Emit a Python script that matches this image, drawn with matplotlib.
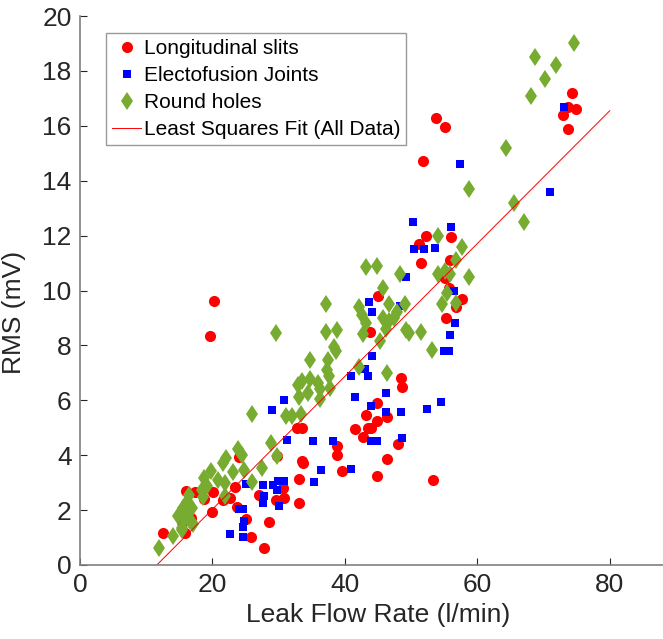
import matplotlib.pyplot as plt

# Longitudinal slits: leak flow (l/min) and RMS (mV)
slits_flow = [72.9, 74.3, 74.9, 73.7, 73.7, 53.7, 55.1, 51.8,
              52.3, 56.0, 51.2, 55.9, 51.5, 55.1, 55.7, 45.0, 57.7, 56.8, 55.2,
              43.8, 48.5, 48.6, 44.8, 46.4, 43.2, 44.8, 41.5, 43.5, 43.9, 42.7,
              32.8, 33.5, 48.0, 38.8, 38.8, 33.5, 33.6, 46.4, 39.5, 44.8, 53.3,
              33.1, 20.2, 19.6, 24.0, 29.7, 23.4, 30.6, 27.0, 29.6, 30.8, 33.1,
              22.6, 21.6, 23.7, 25.1, 28.5, 25.8, 27.8, 16.0, 17.4, 20.1, 18.7,
              19.9, 16.3, 15.4, 16.8, 15.8, 12.5]
slits_rms = [16.4, 17.2, 16.6, 15.9, 16.7, 16.3, 15.95, 14.7,
             12.0, 11.95, 11.7, 11.1, 11.0, 10.45, 10.1, 9.8, 9.7, 9.4, 9.0,
             8.5, 6.8, 6.5, 5.9, 5.4, 5.45, 5.25, 4.95, 5.0, 5.0, 4.67,
             5.0, 5.0, 4.4, 4.33, 4.0, 3.8, 3.7, 3.87, 3.42, 3.24, 3.1,
             3.13, 9.6, 8.35, 3.95, 3.97, 2.84, 2.8, 2.55, 2.37, 2.44, 2.27,
             2.44, 2.37, 2.1, 1.68, 1.55, 1.02, 0.62, 2.7, 2.66, 2.66, 2.4,
             1.93, 2.0, 1.57, 1.7, 1.17, 1.17]

# Electofusion joints
joints_flow = [73.1, 57.4, 70.9, 50.3, 56.0, 50.4, 51.9, 53.6, 49.3, 56.5,
               43.6, 48.3, 44.1, 56.6, 55.8, 54.9, 55.7, 44.1, 40.9, 43.5,
               43.0, 41.5, 46.2, 54.5, 43.9, 52.4, 46.2, 48.5, 30.8, 29.0,
               31.2, 35.2, 38.2, 43.9, 44.8, 48.6, 36.4, 40.9, 35.3,
               25.1, 27.6, 29.1, 29.9, 30.8, 29.8, 27.8, 27.6, 30.0, 24.0,
               24.6, 24.8, 24.6, 22.6, 24.6]
joints_rms = [16.7, 14.6, 13.6, 12.5, 12.3, 11.5, 11.5, 11.55, 10.5, 10.0,
              9.58, 9.43, 9.2, 8.82, 8.38, 7.8, 7.8, 7.6, 6.88, 6.9,
              7.15, 6.12, 6.25, 5.94, 5.8, 5.7, 5.57, 5.57, 6.0, 5.65,
              4.55, 4.5, 4.5, 4.5, 4.5, 4.63, 3.45, 3.5, 3.02,
              2.95, 2.9, 2.9, 3.06, 3.06, 2.73, 2.5, 2.27, 2.15, 2.04,
              2.04, 1.6, 1.4, 1.13, 1.02]

# Round holes
holes_flow = [74.6, 68.7, 71.9, 70.2, 68.1, 64.4, 58.7, 65.5, 67.0, 54.0,
              57.7, 43.2, 44.8, 56.8, 48.3, 54.0, 55.1, 55.9, 58.7, 45.7,
              55.4, 46.6, 37.1, 49.1, 54.6, 56.8, 42.1, 42.6, 45.7, 47.8,
              46.6, 47.4, 43.2, 29.6, 37.1, 38.8, 42.7, 46.2, 49.2, 49.7,
              51.5, 45.3, 38.3, 38.6, 53.1, 34.8, 37.4, 37.3, 42.2, 46.3,
              37.6, 33.5, 32.9, 34.7, 35.9, 36.2, 34.4, 33.1, 37.7, 36.2,
              26.0, 31.1, 32.0, 33.4, 28.8, 29.7,
              23.8, 24.5, 23.1, 21.6, 19.8, 20.8, 18.7, 19.2, 21.9, 21.9,
              18.4, 18.6, 16.5, 16.2, 16.9, 15.5, 14.8, 15.8, 16.6, 15.4,
              14.0, 11.9, 24.7, 27.5, 26.0, 22.0, 17.1, 15.4, 16.3]
holes_rms = [19.0, 18.5, 18.2, 17.7, 17.1, 15.2, 13.7, 13.2, 12.5, 12.0,
             11.6, 10.85, 10.9, 11.1, 10.6, 10.6, 10.7, 10.6, 10.5, 10.1,
             9.9, 9.5, 9.5, 9.5, 9.5, 9.55, 9.4, 9.1, 9.0, 9.2,
             8.9, 9.0, 8.8, 8.45, 8.5, 8.55, 8.4, 8.6, 8.55, 8.45,
             8.5, 8.15, 7.95, 7.8, 7.85, 7.45, 7.45, 7.12, 7.2, 7.0,
             6.9, 6.72, 6.56, 6.78, 6.63, 6.4, 6.27, 6.12, 6.45, 6.05,
             5.5, 5.43, 5.43, 5.5, 4.43, 3.97,
             4.22, 4.0, 3.4, 3.72, 3.42, 3.08, 3.17, 2.88, 2.98, 2.53,
             2.73, 2.48, 2.55, 2.3, 2.08, 2.08, 1.77, 1.7, 1.6, 1.27,
             1.04, 0.62, 3.46, 3.52, 3.02, 3.9, 1.5, 1.35, 1.85]

# least squares line over all samples
fit_flow = [11.6, 80.0]
fit_rms = [0.0, 16.55]

plt.rcParams['font.family'] = ['Liberation Sans', 'DejaVu Sans']

fig = plt.figure(figsize=(6.63, 6.39), dpi=100)
ax = fig.add_axes([80 / 663, 74 / 639, 596 / 663, 549 / 639])

ax.plot(slits_flow, slits_rms, 'o', color='#ff0000', markersize=8,
        markeredgewidth=0, label='Longitudinal slits')
ax.plot(joints_flow, joints_rms, 's', color='#0000ff', markersize=6,
        markeredgewidth=0, label='Electofusion Joints')
ax.plot(holes_flow, holes_rms, 'd', color='#77ac30', markersize=9.5,
        markeredgewidth=0, label='Round holes')
ax.plot(fit_flow, fit_rms, '-', color='#ff0000', linewidth=0.7,
        label='Least Squares Fit (All Data)')

ax.set_xlim(0, 90)
ax.set_ylim(0, 20)
ax.set_xticks([0, 20, 40, 60, 80])
ax.set_yticks([0, 2, 4, 6, 8, 10, 12, 14, 16, 18, 20])
ax.tick_params(direction='in', length=5, width=0.8, colors='#262626',
               labelsize=19, pad=6)
for side in ('top', 'right'):
    ax.spines[side].set_visible(False)
for side in ('left', 'bottom'):
    ax.spines[side].set_color('#808080')
    ax.spines[side].set_linewidth(1.2)

ax.set_xlabel('Leak Flow Rate (l/min)', fontsize=19, color='#262626', labelpad=4)
ax.set_ylabel('RMS (mV)', fontsize=19, color='#262626')
ax.yaxis.set_label_coords(-0.09, 0.46)

leg = ax.legend(loc='upper left', bbox_to_anchor=(26 / 596, 532 / 549),
                fontsize=15, frameon=True, fancybox=False, handlelength=1.4,
                handletextpad=0.1, borderpad=0.3, labelspacing=0.38,
                borderaxespad=0)
leg.get_frame().set_edgecolor('#808080')
leg.get_frame().set_linewidth(1.0)

plt.savefig('out.png', dpi=100)
plt.close()
